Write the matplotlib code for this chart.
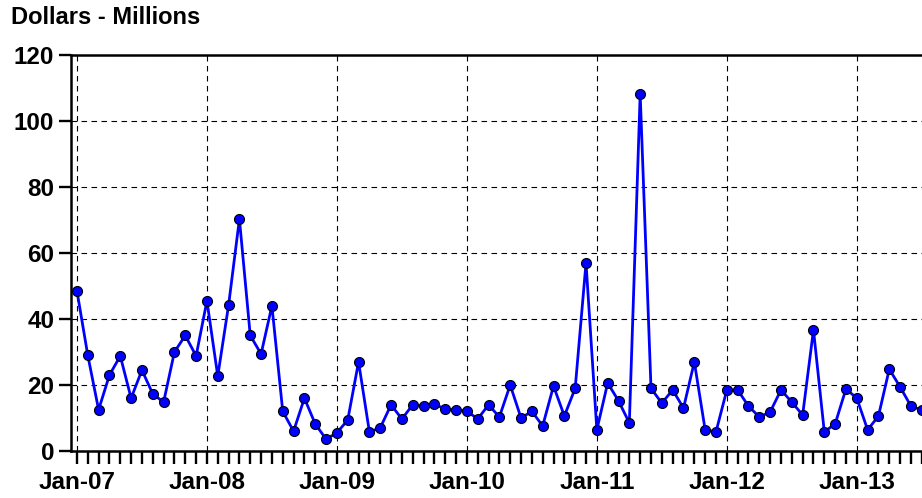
import matplotlib
matplotlib.use("Agg")
import matplotlib.pyplot as plt
from matplotlib.ticker import FixedLocator, MultipleLocator

# monthly values, Jan-07 .. Jul-13 (Dollars - Millions)
values = [
    48.5, 29.0, 12.5, 23.0, 28.8, 16.0, 24.5, 17.3, 14.8, 30.0, 35.0, 28.8,   # 2007
    45.5, 22.7, 44.2, 70.3, 35.0, 29.4, 44.0, 12.0, 6.0, 16.0, 8.2, 3.6,      # 2008
    5.5, 9.4, 27.0, 5.8, 7.0, 14.0, 9.7, 14.0, 13.6, 14.2, 12.7, 12.4,        # 2009
    12.1, 9.7, 14.0, 10.3, 20.0, 10.0, 12.0, 7.6, 19.7, 10.6, 19.0, 57.0,     # 2010
    6.4, 20.6, 15.2, 8.5, 108.2, 19.0, 14.5, 18.5, 13.0, 27.0, 6.4, 5.8,      # 2011
    18.5, 18.5, 13.6, 10.3, 11.8, 18.5, 14.8, 10.9, 36.7, 5.8, 8.2, 18.8,     # 2012
    16.0, 6.4, 10.6, 24.8, 19.4, 13.6, 12.4,                                  # 2013
]
year_labels = ["Jan-07", "Jan-08", "Jan-09", "Jan-10", "Jan-11", "Jan-12", "Jan-13"]
y_ticks = [0, 20, 40, 60, 80, 100, 120]

months = list(range(len(values)))
jan_pos = [12 * i for i in range(len(year_labels))]

plt.rcParams["font.family"] = ["Liberation Sans", "DejaVu Sans"]
plt.rcParams["font.weight"] = "bold"

fig = plt.figure(figsize=(9.22, 4.98), dpi=100)
ax = fig.add_axes([0.077, 0.0944, 0.923, 0.7952])

ax.plot(months, values, "-o", color="#0000ff", lw=2.0, ms=7.2,
        mfc="#0000ff", mec="black", mew=0.8, zorder=3)

ax.set_xlim(-0.55, 78.02)
ax.set_ylim(0, 120)
ax.xaxis.set_major_locator(FixedLocator(jan_pos))
ax.set_xticklabels(year_labels)
ax.xaxis.set_minor_locator(MultipleLocator(1))
ax.yaxis.set_major_locator(FixedLocator(y_ticks))

ax.tick_params(axis="x", which="both", length=9.5, width=1.7, direction="out",
               labelsize=17.5, pad=5)
ax.tick_params(axis="y", length=9, width=1.7, direction="out", labelsize=17.5, pad=3)
for lab in ax.get_xticklabels() + ax.get_yticklabels():
    lab.set_fontweight("bold")

ax.grid(True, which="major", color="black", linestyle=(0, (5, 4)), linewidth=0.8)

ax.spines["right"].set_visible(False)
for s in ["left", "top", "bottom"]:
    ax.spines[s].set_linewidth(1.8)

fig.text(0.012, 0.965, "Dollars - Millions", fontsize=17, fontweight="bold",
         ha="left", va="center")

fig.savefig("out.png", dpi=100)
